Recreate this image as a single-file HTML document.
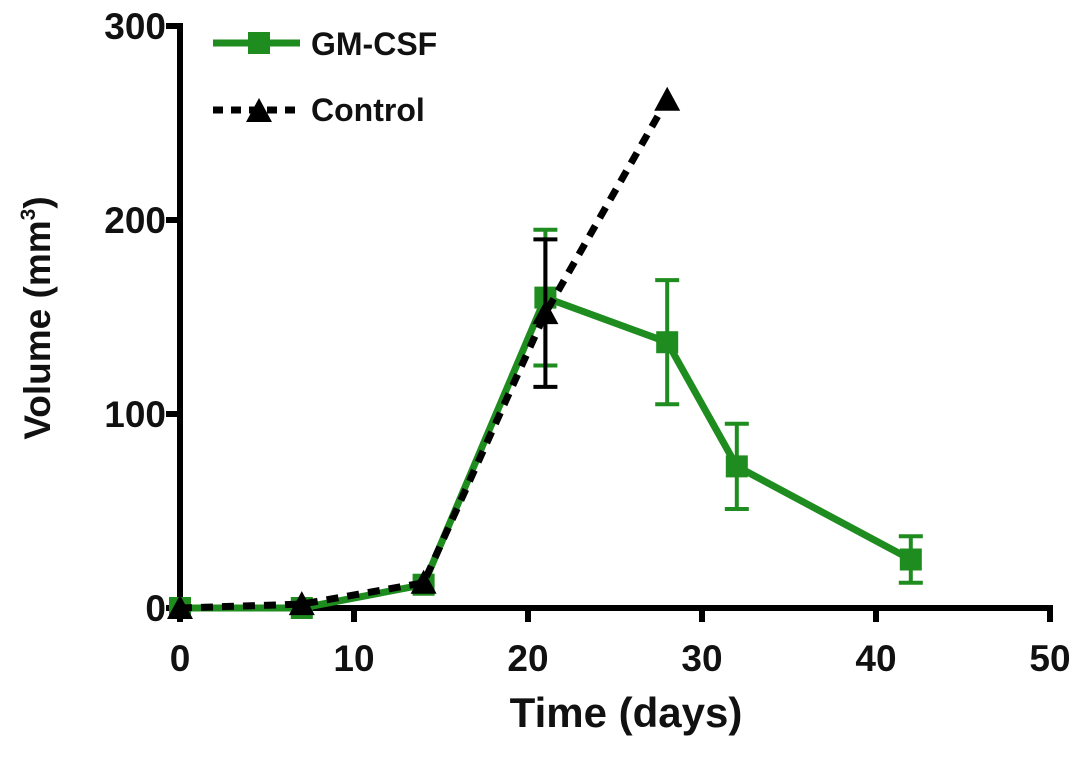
<!DOCTYPE html>
<html><head><meta charset="utf-8"><style>
body{margin:0;background:#fff}
svg text{font-family:"Liberation Sans",Arial,sans-serif;font-weight:bold;fill:#111}
</style></head><body>
<svg id="chart" width="1087" height="752" viewBox="0 0 1087 752" xmlns="http://www.w3.org/2000/svg">
<g id="axes"></g>
<g id="series"></g>
<g id="legend">
  <line x1="213" y1="43" x2="300" y2="43" stroke="#1e8c1e" stroke-width="7"/>
  <rect x="248" y="32" width="22" height="22" fill="#1e8c1e"/>
  <text x="311" y="55" font-size="32">GM-CSF</text>
  <line x1="213" y1="110" x2="300" y2="110" stroke="#000" stroke-width="7" stroke-dasharray="10,8"/>
  <polygon points="259,98 272,122 246,122" fill="#000"/>
  <text x="311" y="121" font-size="32">Control</text>
</g>
<text transform="translate(50,318) rotate(-90)" text-anchor="middle" font-size="37">Volume (mm<tspan font-size="21" dy="-15">3</tspan><tspan dy="15">)</tspan></text>
<text x="626" y="727" text-anchor="middle" font-size="42">Time (days)</text>
</svg>
<script>
const xTicks=[0,10,20,30,40,50];
const yTicks=[0,100,200,300];
const gmDays=[0,7,14,21,28,32,42];
const gmValues=[0,0,12,160,137,73,25];
const gmErrors=[0,0,0,35,32,22,12];
const ctrlDays=[0,7,14,21,28];
const ctrlValues=[0,2,13,152,262];
const ctrlErrors=[0,0,0,38,0];

const X=d=>180+d*17.4;
const Y=v=>608-v*1.94;
const NS="http://www.w3.org/2000/svg";
function mk(tag,attrs,parent){const e=document.createElementNS(NS,tag);for(const k in attrs)e.setAttribute(k,attrs[k]);parent.appendChild(e);return e;}
const axes=document.getElementById('axes');
const series=document.getElementById('series');

let a=mk('line',{x1:X(0),y1:Y(300)-3,x2:X(0),y2:Y(0)+2,stroke:'#000','stroke-width':6},axes);


a=mk('line',{x1:X(0)-3,y1:Y(0),x2:X(50)+3,y2:Y(0),stroke:'#000','stroke-width':6},axes);


xTicks.forEach(t=>{
  const l=mk('line',{x1:X(t),y1:Y(0),x2:X(t),y2:Y(0)+14,stroke:'#000','stroke-width':6},axes);
  
  
  const tx=mk('text',{x:X(t),y:Y(0)+63,'text-anchor':'middle','font-size':37},axes);
  tx.textContent=t;
  
  
});
yTicks.forEach(t=>{
  const l=mk('line',{x1:X(0)-14,y1:Y(t),x2:X(0),y2:Y(t),stroke:'#000','stroke-width':6},axes);
  
  
  const tx=mk('text',{x:X(0)-14,y:Y(t)+13,'text-anchor':'end','font-size':37},axes);
  tx.textContent=t;
  
  
});

function drawSeries(days,vals,errs,color,dash,marker,name){
  const pts=days.map((d,i)=>X(d)+','+Y(vals[i])).join(' ');
  const attrs={points:pts,fill:'none',stroke:color,'stroke-width':7,'stroke-linejoin':'round'};
  if(dash)attrs['stroke-dasharray']=dash;
  const pl=mk('polyline',attrs,series);
  
  
  days.forEach((d,i)=>{
    const cx=X(d),cy=Y(vals[i]);
    if(errs[i]>0){
      const hi=Y(vals[i]+errs[i]),lo=Y(vals[i]-errs[i]);
      const eb=mk('path',{d:`M${cx},${hi}V${lo}M${cx-12},${hi}H${cx+12}M${cx-12},${lo}H${cx+12}`,stroke:color,'stroke-width':4,fill:'none'},series);
      
      
    }
    let m;
    if(marker==='square')m=mk('rect',{x:cx-11,y:cy-11,width:22,height:22,fill:color},series);
    else m=mk('polygon',{points:`${cx},${cy-13} ${cx+13},${cy+11} ${cx-13},${cy+11}`,fill:color},series);
    
    
  });
}
drawSeries(gmDays,gmValues,gmErrors,'#1e8c1e',null,'square','gmcsf');
drawSeries(ctrlDays,ctrlValues,ctrlErrors,'#000','12,9','triangle','control');
</script>
</body></html>
